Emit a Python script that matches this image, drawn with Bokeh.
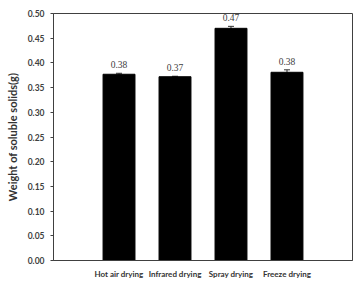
from bokeh.plotting import figure
from bokeh.models import FactorRange, Range1d, ColumnDataSource, Whisker, LabelSet, TeeHead, SingleIntervalTicker, NumeralTickFormatter
from bokeh.embed import file_html
from bokeh.resources import INLINE

categories = ["Hot air drying", "Infrared drying", "Spray drying", "Freeze drying"]
values = [0.377, 0.372, 0.470, 0.381]
errors = [0.002, 0.001, 0.004, 0.005]
value_labels = ["0.38", "0.37", "0.47", "0.38"]

src = ColumnDataSource(dict(
    cat=categories, val=values,
    upper=[v + e for v, e in zip(values, errors)],
    lower=[v - e for v, e in zip(values, errors)],
    lab=value_labels,
))

FONT = "Lato"
p = figure(width=355, height=281, output_backend="svg", toolbar_location=None,
           x_range=FactorRange(factors=categories, range_padding=0.67, range_padding_units="absolute"),
           y_range=Range1d(0, 0.5),
           min_border_left=53, min_border_top=13, min_border_right=3, min_border_bottom=0)

p.vbar(x="cat", top="val", width=0.57, source=src, fill_color="black", line_color="black")

w = Whisker(base="cat", upper="upper", lower="lower", source=src,
            line_color="#333333", line_width=1,
            upper_head=TeeHead(size=6, line_color="#333333"),
            lower_head=TeeHead(size=6, line_color="#333333"))
p.add_layout(w)

labels = LabelSet(x="cat", y="upper", text="lab", source=src, text_align="center",
                  text_baseline="bottom", y_offset=5, text_font=FONT,
                  text_font_size="9.5px", text_color="#404040")
p.add_layout(labels)

p.grid.visible = False
p.outline_line_color = "#404040"
p.outline_line_width = 1

p.yaxis.ticker = SingleIntervalTicker(interval=0.05)
p.yaxis.formatter = NumeralTickFormatter(format="0.00")
p.yaxis.minor_tick_line_color = None
p.yaxis.major_tick_in = 0
p.yaxis.major_tick_out = 3
p.yaxis.major_label_text_font = FONT
p.yaxis.major_label_text_font_style = "bold"
p.yaxis.major_label_text_font_size = "8.5px"
p.yaxis.major_label_text_color = "#404040"
p.yaxis.major_label_standoff = 5
p.yaxis.axis_label = "Weight of soluble solids(g)"
p.yaxis.axis_label_text_font = FONT
p.yaxis.axis_label_text_font_style = "bold"
p.yaxis.axis_label_text_font_size = "11px"
p.yaxis.axis_label_text_color = "#333333"
p.yaxis.axis_label_standoff = 6
p.yaxis.axis_line_color = "#404040"
p.yaxis.major_tick_line_color = "#404040"

p.xaxis.major_tick_line_color = None
p.xaxis.major_tick_out = 0
p.xaxis.major_tick_in = 0
p.xaxis.axis_line_color = "#404040"
p.xaxis.major_label_text_font = FONT
p.xaxis.major_label_text_font_style = "bold"
p.xaxis.major_label_text_font_size = "8px"
p.xaxis.major_label_text_color = "#333333"
p.xaxis.major_label_standoff = 8

open("out.html", "w").write(file_html(p, INLINE))
